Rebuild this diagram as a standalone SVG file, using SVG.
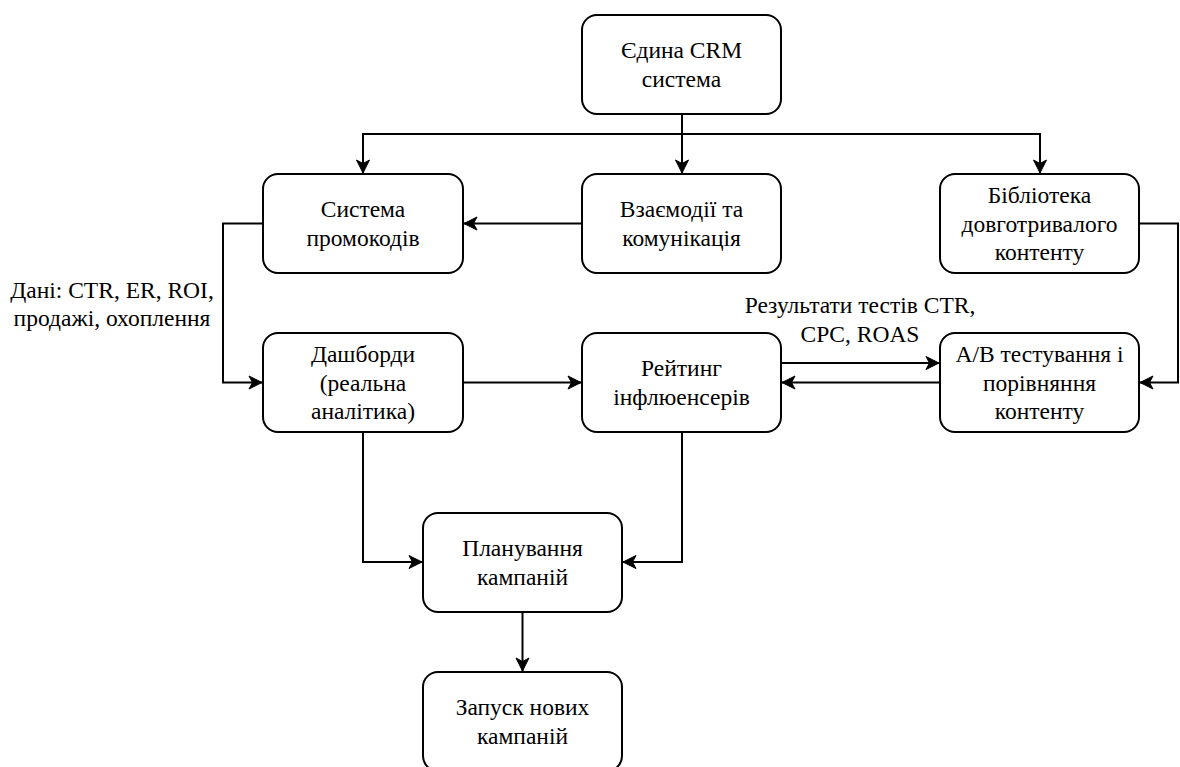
<svg xmlns="http://www.w3.org/2000/svg" width="1180" height="767" viewBox="0 0 1180 767">
<style>
.box{fill:#fff;stroke:#000;stroke-width:2}
.t{font-family:"Liberation Serif","Times New Roman",serif;font-size:23.5px;fill:#000;text-anchor:middle}
.c{fill:none;stroke:#000;stroke-width:2}
</style>
<defs>
<marker id="arr" markerUnits="userSpaceOnUse" markerWidth="16" markerHeight="16" viewBox="-14 -8 16 16" refX="0" refY="0" orient="auto">
<path d="M0,0 L-13,-6.5 L-9.5,0 L-13,6.5 Z" fill="#000" stroke="#000" stroke-width="1"/>
</marker>
</defs>
<rect width="1180" height="767" fill="#fff"/>
<g id="connectors">
<path class="c" d="M682,114 V134 H363 V173" marker-end="url(#arr)"/>
<path class="c" d="M682,114 V173" marker-end="url(#arr)"/>
<path class="c" d="M682,114 V134 H1040 V173" marker-end="url(#arr)"/>
<path class="c" d="M582,223.5 H464" marker-end="url(#arr)"/>
<path class="c" d="M263,223.5 H223 V382.5 H262" marker-end="url(#arr)"/>
<path class="c" d="M463,382.5 H581" marker-end="url(#arr)"/>
<path class="c" d="M781,363 H939" marker-end="url(#arr)"/>
<path class="c" d="M940,382.5 H782" marker-end="url(#arr)"/>
<path class="c" d="M1139,223.5 H1178 V382.5 H1140" marker-end="url(#arr)"/>
<path class="c" d="M363,432 V562 H422" marker-end="url(#arr)"/>
<path class="c" d="M682,432 V562 H623" marker-end="url(#arr)"/>
<path class="c" d="M522.5,612 V671" marker-end="url(#arr)"/>
<text class="t" x="112" y="298">Дані: CTR, ER, ROI,</text>
<text class="t" x="112" y="326">продажі, охоплення</text>
<text class="t" x="860" y="313">Результати тестів CTR,</text>
<text class="t" x="860" y="342">CPC, ROAS</text>
</g>
<g id="crm">
<rect class="box" x="582" y="15" width="199" height="99" rx="15"/>
<text class="t" x="681.5" y="58.3">Єдина CRM</text>
<text class="t" x="681.5" y="86.5">система</text>
</g>
<g id="promo">
<rect class="box" x="263" y="174" width="200" height="99" rx="15"/>
<text class="t" x="363" y="217.3">Система</text>
<text class="t" x="363" y="245.5">промокодів</text>
</g>
<g id="vzaiemodii">
<rect class="box" x="582" y="174" width="199" height="99" rx="15"/>
<text class="t" x="681.5" y="217.3">Взаємодії та</text>
<text class="t" x="681.5" y="245.5">комунікація</text>
</g>
<g id="biblioteka">
<rect class="box" x="940" y="174" width="199" height="99" rx="15"/>
<text class="t" x="1039.5" y="203.2">Бібліотека</text>
<text class="t" x="1039.5" y="231.7">довготривалого</text>
<text class="t" x="1039.5" y="260.2">контенту</text>
</g>
<g id="dashbordy">
<rect class="box" x="263" y="333" width="200" height="99" rx="15"/>
<text class="t" x="363" y="362.2">Дашборди</text>
<text class="t" x="363" y="390.7">(реальна</text>
<text class="t" x="363" y="419.2">аналітика)</text>
</g>
<g id="reityng">
<rect class="box" x="582" y="333" width="199" height="99" rx="15"/>
<text class="t" x="681.5" y="376.3">Рейтинг</text>
<text class="t" x="681.5" y="404.5">інфлюенсерів</text>
</g>
<g id="ab">
<rect class="box" x="940" y="333" width="199" height="99" rx="15"/>
<text class="t" x="1039.5" y="362.2">A/B тестування і</text>
<text class="t" x="1039.5" y="390.7">порівняння</text>
<text class="t" x="1039.5" y="419.2">контенту</text>
</g>
<g id="planuvannia">
<rect class="box" x="423" y="513" width="199" height="99" rx="15"/>
<text class="t" x="522.5" y="556.3">Планування</text>
<text class="t" x="522.5" y="584.5">кампаній</text>
</g>
<g id="zapusk">
<rect class="box" x="423" y="672" width="199" height="99" rx="15"/>
<text class="t" x="522.5" y="715.3">Запуск нових</text>
<text class="t" x="522.5" y="743.5">кампаній</text>
</g>
</svg>
